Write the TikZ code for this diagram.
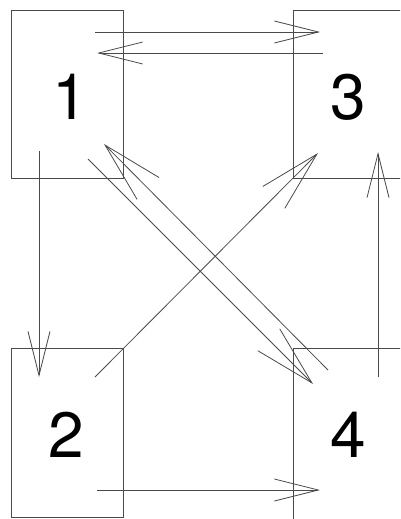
\documentclass[tikz,border=0pt]{standalone}
\usepackage{fontspec}
\setmainfont{TeX Gyre Heros}
\usetikzlibrary{arrows.meta}
\definecolor{linegray}{HTML}{4A4A4A}
\begin{document}
\begin{tikzpicture}[x=1pt,y=-1pt,
  box/.style={draw=linegray, line width=0.8pt, rectangle, inner sep=0pt},
  digit/.style={font=\fontsize{64}{64}\selectfont, text=black, inner sep=0pt},
  conn/.style={draw=linegray, line width=0.8pt, -{Straight Barb[length=44pt,width=22pt,line width=0.8pt]}},
  diagconn/.style={draw=linegray, line width=0.8pt, -{Straight Barb[length=61pt,width=31pt,line width=0.8pt]}}]
\useasboundingbox (0,0) rectangle (400,519);
\clip (0,0) rectangle (400,519);
% boxes
\node[box, minimum width=112pt, minimum height=168pt] (b1) at (67,94) {};
\node[box, minimum width=127pt, minimum height=168pt] (b3) at (356.5,94) {};
\node[box, minimum width=112pt, minimum height=169pt] (b2) at (67,432.5) {};
\node[box, minimum width=127pt, minimum height=182pt] (b4) at (356.5,439) {};
% labels
\node[digit] (l1) at (70,97) {1};
\node[digit] (l3) at (348,97) {3};
\node[digit] (l2) at (66,435) {2};
\node[digit] (l4) at (348,435) {4};
% connector end points
\coordinate (p13s) at (95,32);
\coordinate (p13e) at (320,32);
\coordinate (p31s) at (323,53);
\coordinate (p31e) at (97,53);
\coordinate (p12s) at (39,151);
\coordinate (p12e) at (39,377);
\coordinate (p24s) at (97,490);
\coordinate (p24e) at (320,490);
\coordinate (p43s) at (378,377);
\coordinate (p43e) at (378,152);
\coordinate (p23s) at (95,377);
\coordinate (p23e) at (318,153);
\coordinate (p14s) at (88,159);
\coordinate (p14e) at (313,384);
\coordinate (p41s) at (328,370);
\coordinate (p41e) at (104,144);
% connectors
\draw[conn] (p13s) -- (p13e);
\draw[conn] (p31s) -- (p31e);
\draw[conn] (p12s) -- (p12e);
\draw[conn] (p24s) -- (p24e);
\draw[conn] (p43s) -- (p43e);
\draw[diagconn] (p23s) -- (p23e);
\draw[diagconn] (p14s) -- (p14e);
\draw[diagconn] (p41s) -- (p41e);
\end{tikzpicture}
\end{document}
